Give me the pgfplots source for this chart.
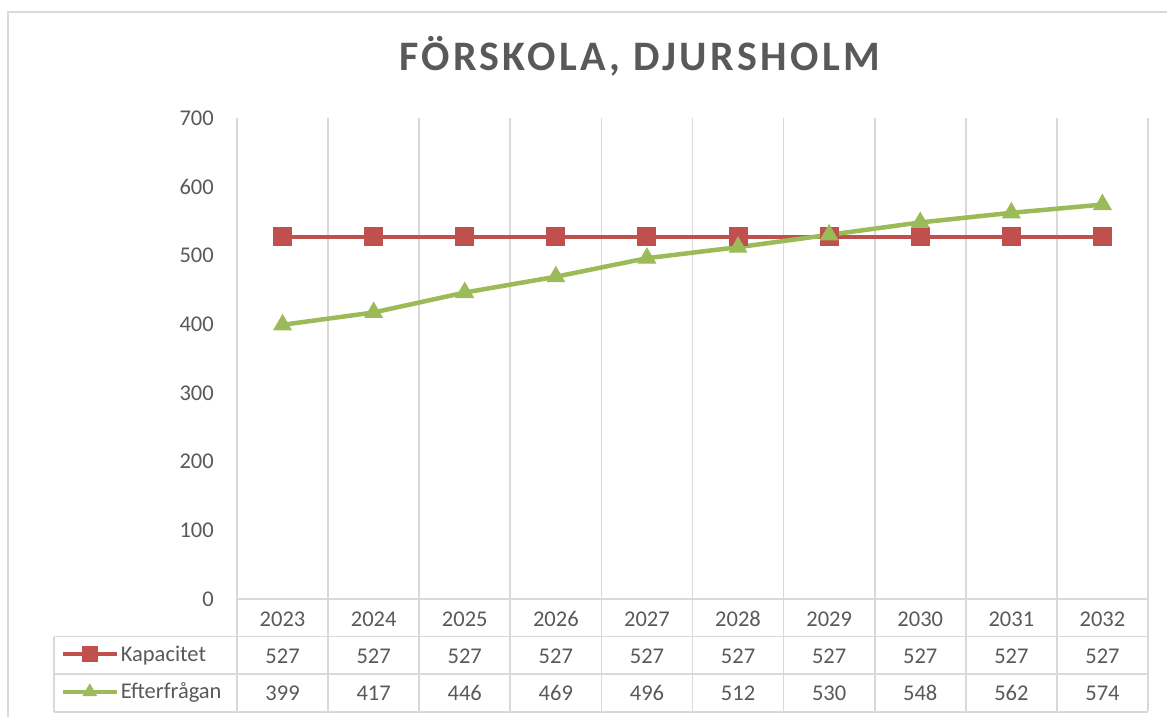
\documentclass[border=0pt]{standalone}
\usepackage{fontspec}
\setmainfont{Carlito}
\newfontfamily\titlefont[LetterSpace=8]{Carlito}
\usepackage{pgfplots}
\usepackage{pgfplotstable}
\pgfplotsset{compat=1.18}
\definecolor{tc}{HTML}{595959}
\definecolor{gc}{HTML}{D9D9D9}
\definecolor{kap}{HTML}{C0504D}
\definecolor{eft}{HTML}{9BBB59}
\newcommand\tf{\fontsize{22.5}{26}\selectfont}
\pgfplotstableread{
x year kap eft
0 2023 527 399
1 2024 527 417
2 2025 527 446
3 2026 527 469
4 2027 527 496
5 2028 527 512
6 2029 527 530
7 2030 527 548
8 2031 527 562
9 2032 527 574
}\datatable
\begin{document}
\begin{tikzpicture}[x=1pt,y=1pt]
\useasboundingbox (0,0) rectangle (1167,716);
\draw[gc, line width=1.7pt] (8,-5) -- (8,704) -- (1175,704);
\begin{axis}[
  at={(237pt,117pt)}, anchor=south west,
  scale only axis, width=911pt, height=481pt,
  xmin=-0.5, xmax=9.5, ymin=0, ymax=700,
  clip=false,
  /pgf/number format/assume math mode=true,
  axis x line*=bottom, axis y line*=left,
  axis line style={gc, line width=1.7pt, -},
  xtick={0,...,9},
  xticklabels={2023,2024,2025,2026,2027,2028,2029,2030,2031,2032},
  minor xtick={-0.5,0.5,...,9.5},
  xminorgrids,
  minor grid style={gc, line width=1.7pt},
  tick align=outside,
  major tick length=0pt,
  minor tick length=112pt,
  minor tick style={gc, line width=1.7pt},
  ytick={0,100,...,700},
  yticklabel style={anchor=east, inner sep=0pt, xshift=-23pt, font=\tf, text=tc},
  xticklabel style={anchor=base, inner sep=0pt, yshift=-27pt, font=\tf, text=tc},
  title={\titlefont\bfseries FÖRSKOLA, DJURSHOLM},
  title style={at={(axis description cs:0.4418,1.0873)}, anchor=base, inner sep=0pt, font=\fontsize{42}{48}\selectfont, text=tc},
  legend style={at={(axis description cs:-0.1934,-0.0759)}, anchor=north west, draw=none, fill=none, inner sep=0pt, outer sep=0pt, row sep=0pt, column sep=2pt,
    nodes={inner sep=0pt, minimum height=37.5pt, font=\tf, text=tc}},
  legend cell align=left,
  legend image code/.code={\draw[#1, line width=4pt, mark size=7.5pt, mark repeat=2, mark phase=2] plot coordinates {(0pt,0pt)(27pt,0pt)(54pt,0pt)};},
]
\addplot[kap, line width=4.5pt, mark=square*, mark size=9pt, mark options={solid, line width=1pt}] table[x=x, y=kap] {\datatable};
\addlegendentry{Kapacitet}
\addplot[eft, line width=4.5pt, mark=triangle*, mark size=10pt, mark options={solid, line width=1pt}] table[x=x, y=eft] {\datatable};
\addlegendentry{Efterfrågan}
\addplot[draw=none, mark=none, forget plot, nodes near coords, point meta=explicit,
  nodes near coords style={anchor=base, inner sep=0pt, yshift=-64pt, font=\tf, text=tc}]
  table[x=x, y expr=0, meta=kap] {\datatable};
\addplot[draw=none, mark=none, forget plot, nodes near coords, point meta=explicit,
  nodes near coords style={anchor=base, inner sep=0pt, yshift=-101pt, font=\tf, text=tc}]
  table[x=x, y expr=0, meta=eft] {\datatable};
\end{axis}
\draw[gc, line width=1.7pt] (54,79.5) -- (1148,79.5);
\draw[gc, line width=1.7pt] (54,42) -- (1148,42);
\draw[gc, line width=1.7pt] (54,4) -- (1148,4);
\draw[gc, line width=1.7pt] (54,4) -- (54,79.5);
\end{tikzpicture}
\end{document}
